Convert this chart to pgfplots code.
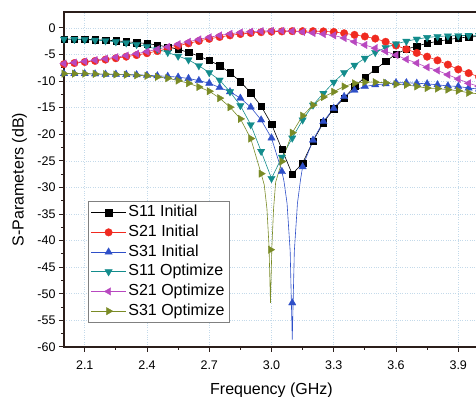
\documentclass[border=0pt]{standalone}
\usepackage{fontspec}
\setmainfont{Liberation Sans}
\usepackage{pgfplots}
\usepackage{pgfplotstable}
\pgfplotsset{compat=1.18}
\definecolor{cBlk}{HTML}{000000}
\definecolor{cRed}{HTML}{F02A20}
\definecolor{cBlu}{HTML}{2E4FC8}
\definecolor{cTea}{HTML}{138C8C}
\definecolor{cMag}{HTML}{B848C0}
\definecolor{cOli}{HTML}{7A8B26}
\definecolor{axc}{HTML}{2B1E1A}
\definecolor{gridc}{HTML}{C4DAEA}
\definecolor{legc}{HTML}{808080}

\pgfplotstableread{
x y
2.00 -2.1
2.05 -2.1
2.10 -2.15
2.15 -2.2
2.20 -2.3
2.25 -2.4
2.30 -2.6
2.35 -2.75
2.40 -2.95
2.45 -3.2
2.50 -3.6
2.55 -4.0
2.60 -4.6
2.65 -5.3
2.70 -6.1
2.75 -7.1
2.80 -8.4
2.85 -10.1
2.90 -12.2
2.95 -14.7
3.00 -18.1
3.05 -22.8
3.10 -27.5
3.15 -25.4
3.20 -21.3
3.25 -17.8
3.30 -15.2
3.35 -13.2
3.40 -11.0
3.45 -9.3
3.50 -7.8
3.55 -6.3
3.60 -4.9
3.65 -4.0
3.70 -3.4
3.75 -2.9
3.80 -2.5
3.85 -2.2
3.90 -1.9
3.95 -1.7
4.00 -1.6
}\SOneOneI

\pgfplotstableread{
x y
2.00 -6.8
2.05 -6.6
2.10 -6.4
2.15 -6.2
2.20 -5.95
2.25 -5.7
2.30 -5.4
2.35 -5.1
2.40 -4.75
2.45 -4.35
2.50 -3.9
2.55 -3.35
2.60 -2.9
2.65 -2.45
2.70 -2.05
2.75 -1.7
2.80 -1.4
2.85 -1.15
2.90 -0.95
2.95 -0.8
3.00 -0.7
3.05 -0.65
3.10 -0.6
3.15 -0.6
3.20 -0.6
3.25 -0.65
3.30 -0.75
3.35 -1.0
3.40 -1.3
3.45 -1.6
3.50 -2.0
3.55 -2.6
3.60 -3.3
3.65 -4.0
3.70 -4.7
3.75 -5.4
3.80 -6.1
3.85 -6.9
3.90 -7.8
3.95 -8.5
4.00 -9.2
}\STwoOneI

\pgfplotstableread{
x y
2.00 -8.6
2.05 -8.6
2.10 -8.6
2.15 -8.65
2.20 -8.7
2.25 -8.7
2.30 -8.75
2.35 -8.8
2.40 -8.9
2.45 -9.0
2.50 -9.1
2.55 -9.25
2.60 -9.5
2.65 -9.9
2.70 -10.4
2.75 -11.2
2.80 -12.0
2.85 -13.2
2.90 -14.9
2.95 -17.3
3.00 -20.7
3.05 -27.0
3.10 -51.7
3.15 -26.1
3.20 -21.1
3.25 -17.6
3.30 -15.1
3.35 -12.9
3.40 -11.7
3.45 -11.0
3.50 -10.7
3.55 -10.5
3.60 -10.3
3.65 -10.3
3.70 -10.4
3.75 -10.5
3.80 -10.7
3.85 -10.9
3.90 -11.0
3.95 -11.3
4.00 -11.5
}\SThreeOneI

\pgfplotstableread{
x y
2.00 -8.6
2.05 -8.6
2.10 -8.6
2.15 -8.65
2.20 -8.7
2.25 -8.7
2.30 -8.75
2.35 -8.8
2.40 -8.9
2.45 -9.0
2.50 -9.1
2.55 -9.25
2.60 -9.5
2.65 -9.9
2.70 -10.4
2.75 -11.2
2.80 -12.0
2.85 -13.2
2.90 -14.9
2.95 -17.3
3.00 -20.7
3.05 -27.0
3.06 -28.8
3.075 -33.0
3.09 -42.0
3.10 -58.6
3.11 -42.0
3.125 -33.0
3.14 -28.5
3.15 -26.1
3.20 -21.1
3.25 -17.6
3.30 -15.1
3.35 -12.9
3.40 -11.7
3.45 -11.0
3.50 -10.7
3.55 -10.5
3.60 -10.3
3.65 -10.3
3.70 -10.4
3.75 -10.5
3.80 -10.7
3.85 -10.9
3.90 -11.0
3.95 -11.3
4.00 -11.5
}\SThreeOneIline

\pgfplotstableread{
x y
2.00 -2.1
2.05 -2.15
2.10 -2.2
2.15 -2.3
2.20 -2.4
2.25 -2.6
2.30 -2.8
2.35 -3.1
2.40 -3.5
2.45 -4.0
2.50 -4.6
2.55 -5.3
2.60 -6.0
2.65 -7.1
2.70 -8.4
2.75 -9.8
2.80 -12.0
2.85 -14.6
2.90 -18.2
2.95 -23.2
3.00 -28.3
3.05 -24.3
3.10 -20.7
3.15 -17.3
3.20 -14.5
3.25 -12.3
3.30 -10.2
3.35 -8.4
3.40 -7.0
3.45 -5.7
3.50 -4.6
3.55 -3.7
3.60 -3.0
3.65 -2.5
3.70 -2.1
3.75 -1.8
3.80 -1.6
3.85 -1.5
3.90 -1.45
3.95 -1.4
4.00 -1.4
}\SOneOneO

\pgfplotstableread{
x y
2.00 -6.7
2.05 -6.5
2.10 -6.3
2.15 -6.05
2.20 -5.8
2.25 -5.5
2.30 -5.2
2.35 -4.85
2.40 -4.45
2.45 -4.0
2.50 -3.55
2.55 -3.05
2.60 -2.6
2.65 -2.15
2.70 -1.75
2.75 -1.4
2.80 -1.1
2.85 -0.85
2.90 -0.7
2.95 -0.6
3.00 -0.55
3.05 -0.55
3.10 -0.6
3.15 -0.75
3.20 -0.95
3.25 -1.15
3.30 -1.4
3.35 -1.9
3.40 -2.6
3.45 -3.2
3.50 -3.8
3.55 -4.4
3.60 -5.1
3.65 -5.9
3.70 -6.6
3.75 -7.4
3.80 -8.0
3.85 -8.8
3.90 -9.6
3.95 -10.4
4.00 -11.0
}\STwoOneO

\pgfplotstableread{
x y
2.00 -8.6
2.05 -8.6
2.10 -8.6
2.15 -8.65
2.20 -8.7
2.25 -8.75
2.30 -8.8
2.35 -8.9
2.40 -9.0
2.45 -9.2
2.50 -9.45
2.55 -9.9
2.60 -10.4
2.65 -11.1
2.70 -11.9
2.75 -13.2
2.80 -14.9
2.85 -17.1
2.90 -20.8
2.95 -27.4
2.995 -41.7
3.05 -25.1
3.10 -19.7
3.15 -16.5
3.20 -14.5
3.25 -13.0
3.30 -12.0
3.35 -11.0
3.40 -10.4
3.45 -10.2
3.50 -10.2
3.55 -10.3
3.60 -10.6
3.65 -10.7
3.70 -11.0
3.75 -11.3
3.80 -11.4
3.85 -11.6
3.90 -11.8
3.95 -12.2
4.00 -12.4
}\SThreeOneO

\pgfplotstableread{
x y
2.00 -8.6
2.05 -8.6
2.10 -8.6
2.15 -8.65
2.20 -8.7
2.25 -8.75
2.30 -8.8
2.35 -8.9
2.40 -9.0
2.45 -9.2
2.50 -9.45
2.55 -9.9
2.60 -10.4
2.65 -11.1
2.70 -11.9
2.75 -13.2
2.80 -14.9
2.85 -17.1
2.90 -20.8
2.95 -27.4
2.965 -29.5
2.978 -34.0
2.988 -41.0
2.995 -51.7
3.002 -41.0
3.01 -34.0
3.02 -29.0
3.05 -25.1
3.10 -19.7
3.15 -16.5
3.20 -14.5
3.25 -13.0
3.30 -12.0
3.35 -11.0
3.40 -10.4
3.45 -10.2
3.50 -10.2
3.55 -10.3
3.60 -10.6
3.65 -10.7
3.70 -11.0
3.75 -11.3
3.80 -11.4
3.85 -11.6
3.90 -11.8
3.95 -12.2
4.00 -12.4
}\SThreeOneOline

\pgfplotsset{
  mylegimg/.style={legend image code/.code={%
    \draw[##1] (0pt,0pt) -- (35pt,0pt);
    \draw[##1,only marks] plot coordinates {(17.5pt,0pt)};}},
}

\begin{document}
\begin{tikzpicture}
\begin{axis}[
  scale only axis, width=415pt, height=335pt,
  xmin=2.0, xmax=4.0, ymin=-60, ymax=3,
  xtick={2.1,2.4,2.7,3.0,3.3,3.6,3.9},
  ytick={-60,-55,-50,-45,-40,-35,-30,-25,-20,-15,-10,-5,0},
  minor x tick num=1, minor y tick num=1,
  tick align=outside, tick pos=left,
  major tick length=5pt, minor tick length=3pt,
  every tick/.style={line width=1pt, color=axc},
  axis line style={line width=1.2pt, color=axc},
  grid=major, grid style={dotted, color=gridc, line width=0.7pt},
  /pgf/number format/assume math mode=true,
  tick label style={font=\fontsize{12.5}{14}\selectfont, color=black},
  xticklabel style={/pgf/number format/.cd, fixed, fixed zerofill, precision=1},
  xticklabel shift=5pt,
  label style={font=\fontsize{16}{19}\selectfont},
  xlabel={Frequency (GHz)},
  ylabel={S-Parameters (dB)},
  xlabel style={at={(axis description cs:0.5,-0.128)}, anchor=center},
  ylabel style={at={(axis description cs:-0.107,0.5)}, anchor=center},
  legend style={at={(0.0578,0.4358)}, anchor=north west, draw=legc, line width=0.6pt,
    font=\fontsize{16}{18}\selectfont, fill=white, inner xsep=2.5pt, inner ysep=1.5pt,
    row sep=0pt, nodes={inner sep=2pt, text height=11.8pt, text depth=3.9pt},
    /tikz/every even column/.append style={column sep=2pt}},
  legend cell align=left,
  mylegimg,
]
\addplot[cBlk, line width=0.6pt, mark=square*, mark size=3.2pt,
  mark options={solid, fill=cBlk, draw=cBlk, line width=0.3pt}] table {\SOneOneI};
\addlegendentry{S11 Initial}
\addplot[cRed, line width=0.6pt, mark=*, mark size=3.8pt,
  mark options={solid, fill=cRed, draw=cRed, line width=0.3pt}] table {\STwoOneI};
\addlegendentry{S21 Initial}
\addplot[cBlu, line width=0.6pt, forget plot] table {\SThreeOneIline};
\addplot[cBlu, line width=0.6pt, only marks, mark=triangle*, mark size=4.3pt,
  mark options={solid, fill=cBlu, draw=cBlu, line width=0.3pt}, mylegimg] table {\SThreeOneI};
\addlegendentry{S31 Initial}
\addplot[cTea, line width=0.6pt, mark=triangle*, mark size=4.3pt,
  mark options={solid, fill=cTea, draw=cTea, line width=0.3pt, rotate=180}] table {\SOneOneO};
\addlegendentry{S11 Optimize}
\addplot[cMag, line width=0.6pt, mark=triangle*, mark size=4.3pt,
  mark options={solid, fill=cMag, draw=cMag, line width=0.3pt, rotate=90}] table {\STwoOneO};
\addlegendentry{S21 Optimize}
\addplot[cOli, line width=0.6pt, forget plot] table {\SThreeOneOline};
\addplot[cOli, line width=0.6pt, only marks, mark=triangle*, mark size=4.3pt,
  mark options={solid, fill=cOli, draw=cOli, line width=0.3pt, rotate=-90}, mylegimg] table {\SThreeOneO};
\addlegendentry{S31 Optimize}
\end{axis}
\pgfresetboundingbox
\path[use as bounding box] ([xshift=-64pt,yshift=-50pt]current axis.south west) rectangle ([xshift=-3pt,yshift=12pt]current axis.north east);
\end{tikzpicture}
\end{document}
